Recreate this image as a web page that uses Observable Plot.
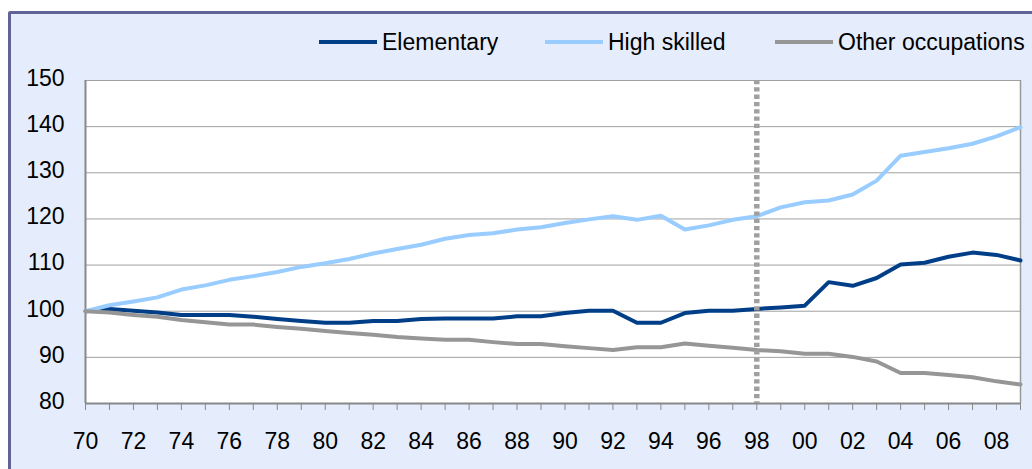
<!DOCTYPE html>
<html><head><meta charset="utf-8">
<script src="https://cdn.jsdelivr.net/npm/d3@7"></script>
<script src="https://cdn.jsdelivr.net/npm/@observablehq/plot@0.6"></script>
<style>
html,body{margin:0;padding:0;background:#fff;width:1032px;height:469px;overflow:hidden;font-family:"Liberation Sans",Arial,sans-serif;}
#frame{position:absolute;left:8px;top:11px;width:1040px;height:470px;border-top:3px solid #626398;border-left:3px solid #626398;background:#E5EDFC;border-top-left-radius:3px;}
#legend{position:absolute;left:0;top:0;width:1032px;height:60px;}
.item{position:absolute;top:29px;height:26px;display:flex;align-items:center;font-size:23px;color:#000;white-space:nowrap}
.sw{display:inline-block;width:58px;height:4px;margin-right:5px}
#chart{position:absolute;left:0;top:55px}
</style></head>
<body>
<div id="frame"></div>
<div id="legend"></div>
<div id="chart"></div>
<script>
const years = [1970,1971,1972,1973,1974,1975,1976,1977,1978,1979,1980,1981,1982,1983,1984,1985,1986,1987,1988,1989,1990,1991,1992,1993,1994,1995,1996,1997,1998,1999,2000,2001,2002,2003,2004,2005,2006,2007,2008,2009];
const elementary = [100,100.5,100.1,99.7,99.2,99.2,99.2,98.8,98.3,97.9,97.5,97.5,97.9,97.9,98.3,98.4,98.4,98.4,98.9,98.9,99.6,100.1,100.1,97.5,97.5,99.6,100.1,100.1,100.5,100.8,101.2,106.3,105.5,107.2,110.1,110.5,111.8,112.7,112.2,111.0];
const highSkilled = [100,101.3,102.1,103.0,104.7,105.6,106.8,107.6,108.5,109.6,110.4,111.3,112.5,113.5,114.4,115.7,116.5,116.9,117.7,118.2,119.1,119.9,120.6,119.8,120.7,117.7,118.6,119.8,120.6,122.5,123.6,124.0,125.3,128.3,133.7,134.5,135.3,136.3,137.9,139.9];
const otherOcc = [100,99.7,99.2,98.8,98.1,97.6,97.1,97.1,96.6,96.2,95.7,95.3,94.9,94.4,94.1,93.8,93.8,93.3,92.9,92.9,92.4,92.0,91.6,92.2,92.2,93.0,92.5,92.1,91.6,91.3,90.8,90.8,90.1,89.1,86.6,86.6,86.2,85.7,84.8,84.1];
const seriesNames = ["Elementary","High skilled","Other occupations"];
const seriesColors = ["#003F88","#99CCFF","#969696"];
const labelYears = [1970,1972,1974,1976,1978,1980,1982,1984,1986,1988,1990,1992,1994,1996,1998,2000,2002,2004,2006,2008];
const xLabels = ["70","72","74","76","78","80","82","84","86","88","90","92","94","96","98","00","02","04","06","08"];
const yTicks = [80,90,100,110,120,130,140,150];
const markerYear = [1998];

const seriesValues = [elementary, highSkilled, otherOcc];
const data = [];
seriesNames.forEach((name, s) => {
  years.forEach((yr, i) => data.push({series: name, year: yr, value: seriesValues[s][i]}));
});

// legend
const legendLeft = [319, 545, 775];
const legend = document.getElementById("legend");
seriesNames.forEach((name, i) => {
  const it = document.createElement("div");
  it.className = "item";
  it.style.left = legendLeft[i] + "px";
  it.innerHTML = `<span class="sw" style="background:${seriesColors[i]}"></span><span>${name}</span>`;
  legend.appendChild(it);
});

const plot = Plot.plot({
  width: 1032, height: 414,
  marginTop: 25, marginBottom: 66, marginLeft: 85, marginRight: 12,
  style: {background: "transparent", fontFamily: "'Liberation Sans', Arial, sans-serif", fontSize: "23px", color: "#000"},
  x: {domain: [1970, 2009], label: null},
  y: {domain: [80, 150], label: null},
  color: {domain: seriesNames, range: seriesColors},
  marks: [
    Plot.frame({fill: "white", stroke: null}),
    Plot.ruleY(yTicks.filter(d => d > 80), {stroke: "#a0a0a0", strokeWidth: 1}),
    Plot.ruleX([2009], {stroke: "#999", strokeWidth: 1.5}),
    Plot.axisX({ticks: years, tickFormat: () => "", tickSize: 7, stroke: "#888", strokeWidth: 1, label: null}),
    Plot.axisX({ticks: labelYears, tickFormat: d => xLabels[labelYears.indexOf(d)], tickSize: 0, tickPadding: 29, label: null, fontSize: 23, fill: "#000"}),
    Plot.axisY({ticks: yTicks, tickSize: 0, tickPadding: 21, label: null, fontSize: 23, fill: "#000", dy: -2}),
    Plot.ruleX([1970], {stroke: "#888", strokeWidth: 2}),
    Plot.ruleY([80], {stroke: "#888", strokeWidth: 2}),
    Plot.line(data, {x: "year", y: "value", z: "series", stroke: "series", strokeWidth: 4, strokeLinejoin: "round", strokeLinecap: "round"}),
    Plot.ruleX(markerYear, {stroke: "#a0a0a0", strokeWidth: 5.5, strokeDasharray: "4.3,3"})
  ]
});
document.getElementById("chart").appendChild(plot);
</script>
</body></html>
